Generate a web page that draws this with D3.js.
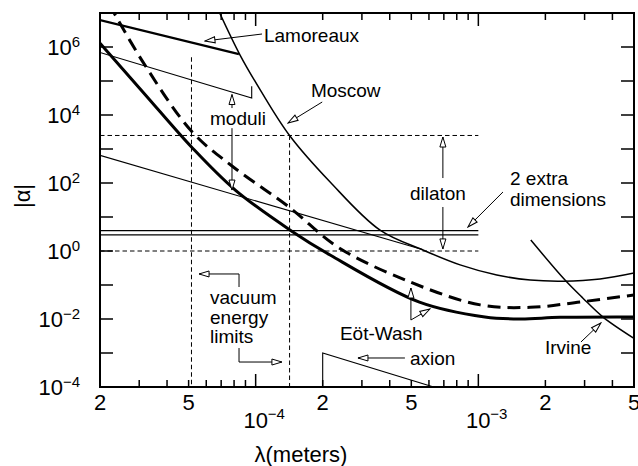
<!DOCTYPE html>
<html><head><meta charset="utf-8">
<script src="https://cdn.jsdelivr.net/npm/d3@7"></script>
<style>html,body{margin:0;padding:0;background:#fff;} svg{display:block;}</style>
</head><body>
<svg id="c" width="638" height="466"></svg>
<script>
// ---------- data ----------
const xDomain = [2e-5, 5e-3];
const yDomain = [1e-4, 1e7];
const yTickValues = [1e-4,1e-3,1e-2,1e-1,1,1e1,1e2,1e3,1e4,1e5,1e6,1e7];
const yTickLabels = [[1e-4,"−4"],[1e-2,"−2"],[1,"0"],[1e2,"2"],[1e4,"4"],[1e6,"6"]];
const xMinorLabels = [[2e-5,"2"],[5e-5,"5"],[2e-4,"2"],[5e-4,"5"],[2e-3,"2"],[5e-3,"5"]];
const xMajorLabels = [[1e-4,"−4"],[1e-3,"−3"]];

// Eöt-Wash (solid, thick)
const ewSolidLambda = [2e-5, 3.2e-5, 5.2e-5, 8.1e-5, 1.43e-4, 2.16e-4, 5.4e-4, 1.07e-3, 1.54e-3, 2.33e-3, 5e-3];
const ewSolidAlpha  = [1.3e6, 3.9e4, 1.07e3, 62, 4.1, 0.76, 0.032, 0.0115, 0.0100, 0.0112, 0.0115];
// Eöt-Wash projected (dashed, thick)
const ewDashLambda = [2.2e-5, 3.12e-5, 5.18e-5, 7.83e-5, 1.43e-4, 2.34e-4, 4.93e-4, 1.02e-3, 1.71e-3, 2.86e-3, 5e-3];
const ewDashAlpha  = [1.8e7, 3.6e5, 3.2e3, 316, 18.4, 1.3, 0.123, 0.026, 0.022, 0.0316, 0.051];
// Moscow
const moscowLambda = [6.7e-5, 8.51e-5, 1.05e-4, 1.42e-4, 2.16e-4, 3.62e-4, 5.64e-4, 8.28e-4, 1.21e-3, 1.71e-3, 2.4e-3, 3.52e-3, 5e-3];
const moscowAlpha  = [1.5e7, 5.8e5, 5.4e4, 2.5e3, 107, 4.1, 1.07, 0.39, 0.197, 0.14, 0.13, 0.15, 0.225];
// Irvine
const irvineLambda = [1.72e-3, 2.45e-3, 2.95e-3, 3.63e-3, 5e-3];
const irvineAlpha  = [2.1, 0.14, 0.041, 0.0114, 0.0027];
// Lamoreaux
const lamorLambda = [2e-5, 8.41e-5];
const lamorAlpha  = [6.2e6, 6.2e5];
// moduli
const moduliUpperLambda = [2e-5, 9.6e-5, 9.6e-5];
const moduliUpperAlpha  = [6.9e5, 3.16e4, 7e4];
const moduliLowerLambda = [2e-5, 5.6e-4];
const moduliLowerAlpha  = [650, 1.1];
// 2 extra dimensions
const extraDimLambda = [2e-5, 1e-3];
const extraDimAlpha  = [4, 3];
// dilaton limits (dashed horizontals)
const dilatonLambda = [2e-5, 1e-3];
const dilatonAlpha  = [2.5e3, 1];
// vacuum energy limits (dashed verticals)
const vacuumLambda = [5.15e-5, 1.42e-4];
const vacuumTopAlpha = [5e5, 2.5e3];
// axion
const axionLambda = [2e-4, 2e-4, 6.3e-4];
const axionAlpha  = [1e-4, 1e-3, 1e-4];

// annotations [lambda, alpha]
const labels = [
  ["Lamoreaux", 1.09e-4, 2.25e6],
  ["Moscow", 1.77e-4, 5.43e4],
  ["moduli", 6.24e-5, 8.2e3],
  ["dilaton", 4.93e-4, 50.8],
  ["2  extra", 1.387e-3, 140],
  ["dimensions", 1.387e-3, 33.8],
  ["vacuum", 6.24e-5, 0.0444],
  ["energy", 6.24e-5, 0.01145],
  ["limits", 6.24e-5, 3.16e-3],
  ["Eöt-Wash", 2.39e-4, 3.88e-3],
  ["axion", 4.93e-4, 7.13e-4],
  ["Irvine", 1.99e-3, 1.5e-3]
];
// arrows: polyline points, arrowhead at last point
const arrows = [
  [[1.068e-4, 2.41e6], [5.92e-5, 1.5e6]],
  [[1.99e-4, 2.41e4], [1.397e-4, 5.82e3]],
  [[7.83e-5, 1.6e4], [7.83e-5, 4e4]],
  [[7.83e-5, 4.1e3], [7.83e-5, 62]],
  [[6.93e-4, 140], [6.93e-4, 2.25e3]],
  [[6.93e-4, 19.7], [6.93e-4, 1.15]],
  [[1.29e-3, 54.4], [8.98e-4, 5.08]],
  [[8.42e-5, 0.0873], [8.42e-5, 0.211], [5.57e-5, 0.211]],
  [[8.42e-5, 1.4e-3], [8.42e-5, 5.43e-4], [1.312e-4, 5.43e-4]],
  [[4.98e-4, 9.35e-3], [4.98e-4, 0.0816]],
  [[4.98e-4, 9.35e-3], [6.06e-4, 0.0197]],
  [[4.68e-4, 7.13e-4], [2.88e-4, 7.13e-4]],
  [[2.89e-3, 2.11e-3], [3.55e-3, 7.63e-3]]
];

// ---------- drawing ----------
const svg = d3.select("#c");
const L = 100, R = 634, T = 13, B = 387;
const x = d3.scaleLog().domain(xDomain).range([L, R]);
const y = d3.scaleLog().domain(yDomain).range([B, T]);
const FONT = "'Liberation Sans', Arial, sans-serif";

const defs = svg.append("defs");
defs.append("clipPath").attr("id","clip").append("rect")
  .attr("x", L).attr("y", T).attr("width", R-L).attr("height", B-T);
defs.append("marker").attr("id","ah").attr("markerUnits","userSpaceOnUse")
  .attr("viewBox","-11 -5 12 10").attr("refX",0).attr("refY",0)
  .attr("markerWidth",12).attr("markerHeight",10).attr("orient","auto")
  .append("path").attr("d","M0,0 L-10,-3 L-10,3 Z")
  .attr("fill","#fff").attr("stroke","#000").attr("stroke-width",1);

const zip = (a,b) => a.map((v,i)=>[v,b[i]]);
const line = d3.line().x(d=>x(d[0])).y(d=>y(d[1]));
const smooth = d3.line().x(d=>x(d[0])).y(d=>y(d[1])).curve(d3.curveMonotoneX);

const g = svg.append("g").attr("clip-path","url(#clip)");

function path(data, gen, w, dash){
  g.append("path").attr("d", gen(data)).attr("fill","none")
   .attr("stroke","#000").attr("stroke-width", w)
   .attr("stroke-dasharray", dash || null);
}
// dashed limit lines
dilatonAlpha.forEach(a => path([[dilatonLambda[0],a],[dilatonLambda[1],a]], line, 1, "4.5,3"));
vacuumLambda.forEach((l,i) => path([[l,vacuumTopAlpha[i]],[l,yDomain[0]]], line, 1, "4.5,3"));
// extra dimensions
extraDimAlpha.forEach(a => path([[extraDimLambda[0],a],[extraDimLambda[1],a]], line, 1.3));
// moduli
path(zip(moduliUpperLambda, moduliUpperAlpha), line, 1.1);
path(zip(moduliLowerLambda, moduliLowerAlpha), line, 1.1);
// Lamoreaux
path(zip(lamorLambda, lamorAlpha), line, 2.2);
// Moscow
path(zip(moscowLambda, moscowAlpha), d3.line().x(d=>x(d[0])).y(d=>y(d[1])).curve(d3.curveCatmullRom), 1.5);
// Irvine
path(zip(irvineLambda, irvineAlpha), d3.line().x(d=>x(d[0])).y(d=>y(d[1])).curve(d3.curveCatmullRom), 1.5);
// axion
path(zip(axionLambda, axionAlpha), line, 1.1);
// Eöt-Wash
path(zip(ewDashLambda, ewDashAlpha), d3.line().x(d=>x(d[0])).y(d=>y(d[1])).curve(d3.curveCatmullRom), 3, "13,7");
path(zip(ewSolidLambda, ewSolidAlpha), d3.line().x(d=>x(d[0])).y(d=>y(d[1])).curve(d3.curveCatmullRom), 3);

// arrows
arrows.forEach(pts => {
  svg.append("path").attr("d", line(pts)).attr("fill","none")
    .attr("stroke","#000").attr("stroke-width",1).attr("marker-end","url(#ah)");
});

// annotation labels
labels.forEach(([t,l,a]) => {
  svg.append("text").attr("x", x(l)).attr("y", y(a)).attr("dy","0.36em")
    .attr("font-family", FONT).attr("font-size", 19).text(t);
});

// frame
svg.append("rect").attr("x",L).attr("y",T).attr("width",R-L).attr("height",B-T)
  .attr("fill","none").attr("stroke","#000").attr("stroke-width",2);

// y ticks
const ax = svg.append("g").attr("stroke","#000").attr("stroke-width",1.5);
yTickValues.forEach(v => {
  ax.append("line").attr("x1",L).attr("x2",L+13).attr("y1",y(v)).attr("y2",y(v));
  ax.append("line").attr("x1",R-13).attr("x2",R).attr("y1",y(v)).attr("y2",y(v));
});
// x ticks
const xTicks = [];
[1e-5,1e-4,1e-3].forEach(d => { for (let m=1;m<=9;m++){ const v=m*d; if (v>=xDomain[0]*0.999 && v<=xDomain[1]*1.001) xTicks.push([v, m===1]); } });
xTicks.forEach(([v,major]) => {
  const len = major ? 13 : 7;
  ax.append("line").attr("x1",x(v)).attr("x2",x(v)).attr("y1",B).attr("y2",B-len);
  ax.append("line").attr("x1",x(v)).attr("x2",x(v)).attr("y1",T).attr("y2",T+len);
});

// y tick labels
yTickLabels.forEach(([v,e]) => {
  const t = svg.append("text").attr("x", 80).attr("y", y(v)).attr("dy","0.36em")
    .attr("text-anchor","end").attr("font-family",FONT).attr("font-size",22);
  t.append("tspan").text("10");
  t.append("tspan").attr("font-size",15).attr("dy","-0.55em").text(e);
});
// x tick labels
xMinorLabels.forEach(([v,s]) => {
  svg.append("text").attr("x", x(v)).attr("y", 402).attr("dy","0.36em")
    .attr("text-anchor","middle").attr("font-family",FONT).attr("font-size",22).text(s);
});
xMajorLabels.forEach(([v,e]) => {
  svg.append("text").attr("x", x(v)).attr("y", 420).attr("dy","0.36em")
    .attr("text-anchor","middle").attr("font-family",FONT).attr("font-size",22).text("10");
  svg.append("text").attr("x", x(v)+12).attr("y", 420).attr("dy","-0.1em")
    .attr("font-family",FONT).attr("font-size",15).text(e);
});

// axis titles
svg.append("text").attr("x", 301).attr("y", 454).attr("dy","0.36em")
  .attr("text-anchor","middle").attr("font-family",FONT).attr("font-size",22).text("λ(meters)");
svg.append("text").attr("transform","translate(22,196) rotate(-90)").attr("dy","0.36em")
  .attr("text-anchor","middle").attr("font-family",FONT).attr("font-size",22).text("|α|");
</script>
</body></html>
